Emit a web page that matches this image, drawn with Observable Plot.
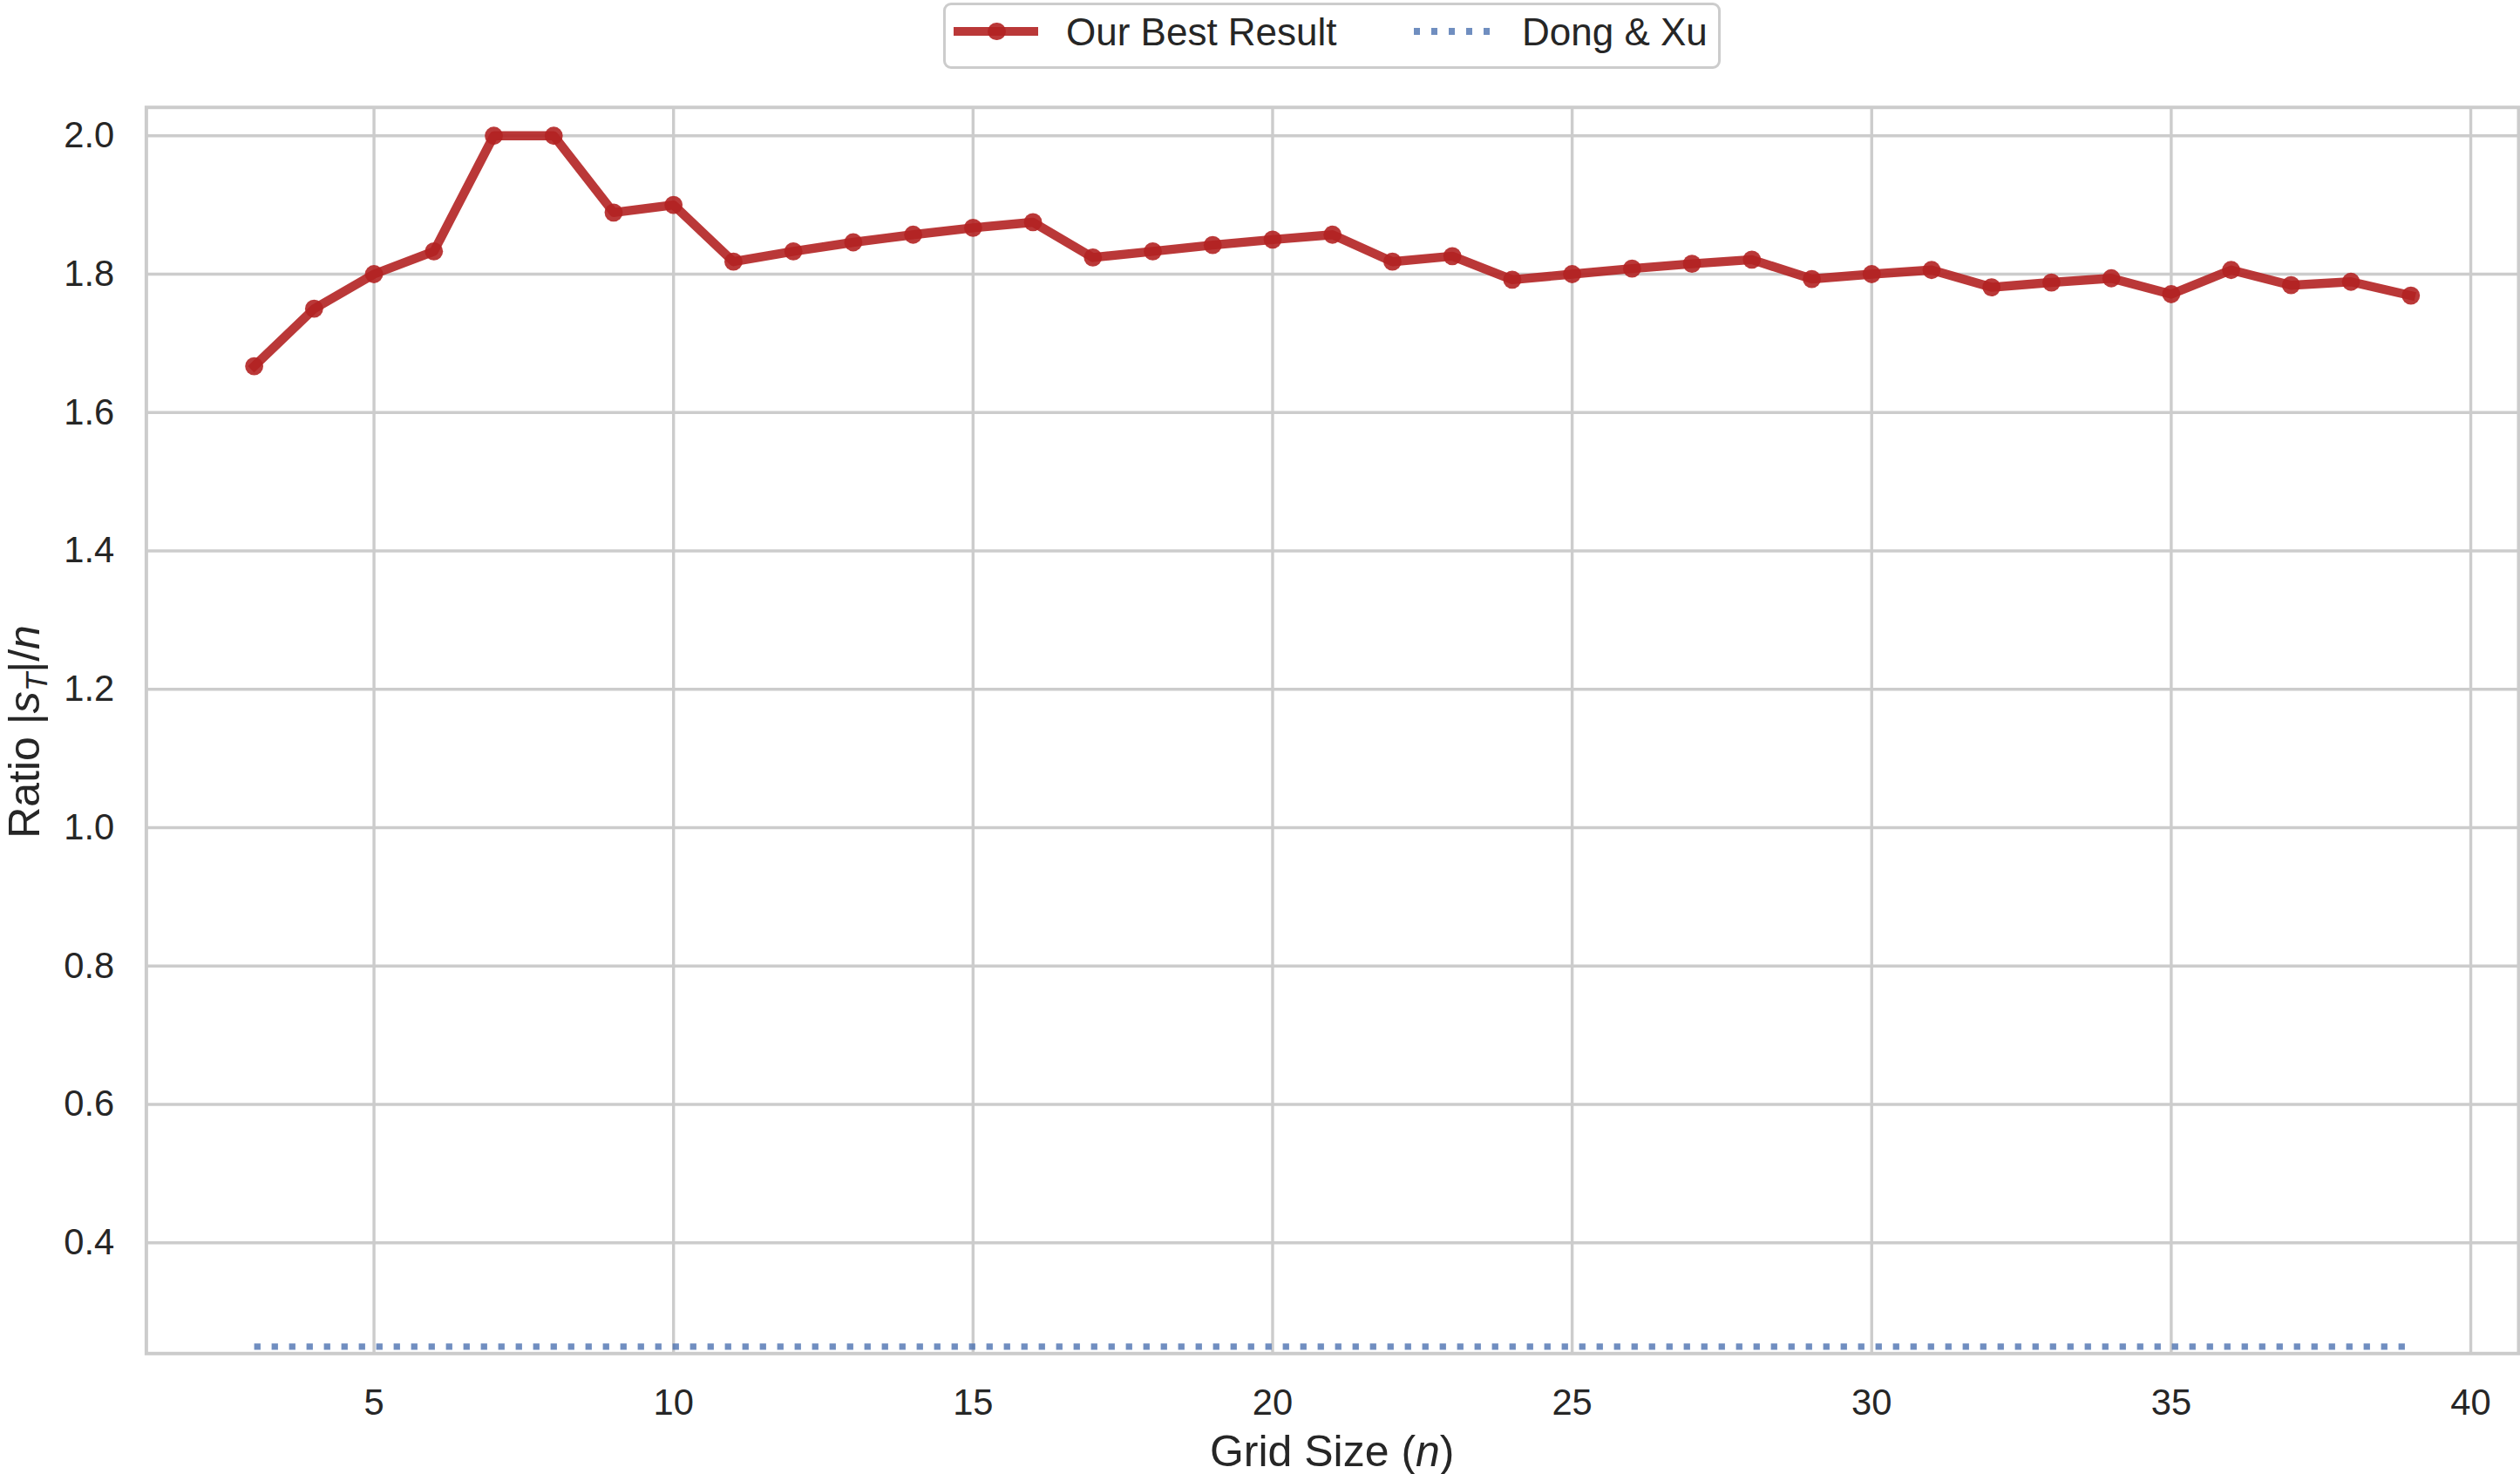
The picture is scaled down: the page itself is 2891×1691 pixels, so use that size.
<!DOCTYPE html>
<html>
<head>
<meta charset="utf-8">
<script src="https://cdn.jsdelivr.net/npm/d3@7"></script>
<script src="https://cdn.jsdelivr.net/npm/@observablehq/plot@0.6"></script>
<style>
  html, body { margin: 0; padding: 0; background: #ffffff; }
  body { width: 2891px; height: 1691px; overflow: hidden; font-family: "Liberation Sans", Arial, sans-serif; color: #262626; }
  #legend { position: relative; width: 2891px; height: 88px; }
  #legend .box { position: absolute; left: 1082px; top: 3px; width: 892px; height: 76px; box-sizing: border-box; border: 3px solid #cccccc; border-radius: 9px; background: #fff; }
  #legend .txt { position: absolute; font-size: 44px; line-height: 44px; white-space: nowrap; color: #262626; }
  #legend .redline { position: absolute; left: 1094px; top: 30.8px; width: 97px; height: 10.4px; background: #b22222; opacity: 0.9; }
  #legend .reddot { position: absolute; left: 1133.1px; top: 25.6px; width: 20.8px; height: 20.8px; border-radius: 50%; background: rgba(178,34,34,0.9); }
  #legend .bluedots { position: absolute; left: 1622px; top: 32.3px; width: 87.3px; height: 7.3px; opacity: 0.8;
    background: repeating-linear-gradient(to right, #4c72b0 0px, #4c72b0 7.3px, transparent 7.3px, transparent 20px); }
  #chart { width: 2891px; }
</style>
</head>
<body>
<div id="legend">
  <div class="box"></div>
  <div class="redline"></div>
  <div class="reddot"></div>
  <div class="txt" style="left:1223px; top:14.5px;">Our Best Result</div>
  <div class="bluedots"></div>
  <div class="txt" style="left:1746px; top:14.5px;">Dong &amp; Xu</div>
</div>
<div id="chart"></div>
<script>
// ---- data ----
const gridSize = [3, 4, 5, 6, 7, 8, 9, 10, 11, 12, 13, 14, 15, 16, 17, 18, 19, 20, 21,
                  22, 23, 24, 25, 26, 27, 28, 29, 30, 31, 32, 33, 34, 35, 36, 37, 38, 39];
const ourBestResult = [1.667, 1.750, 1.800, 1.833, 2.000, 2.000, 1.889, 1.900, 1.818, 1.833,
                       1.846, 1.857, 1.867, 1.875, 1.824, 1.833, 1.842, 1.850, 1.857, 1.818,
                       1.826, 1.792, 1.800, 1.808, 1.815, 1.821, 1.793, 1.800, 1.806, 1.781,
                       1.788, 1.794, 1.771, 1.806, 1.784, 1.789, 1.769];
const dongXu = [0.25, 0.25, 0.25, 0.25, 0.25, 0.25, 0.25, 0.25, 0.25, 0.25, 0.25, 0.25, 0.25,
                0.25, 0.25, 0.25, 0.25, 0.25, 0.25, 0.25, 0.25, 0.25, 0.25, 0.25, 0.25, 0.25,
                0.25, 0.25, 0.25, 0.25, 0.25, 0.25, 0.25, 0.25, 0.25, 0.25, 0.25];
const xTicks = [5, 10, 15, 20, 25, 30, 35, 40];
const yTicks = [0.4, 0.6, 0.8, 1.0, 1.2, 1.4, 1.6, 1.8, 2.0];

const ours = gridSize.map((n, i) => ({n, v: ourBestResult[i]}));
const dong = gridSize.map((n, i) => ({n, v: dongXu[i]}));

const W = 2891, H = 1603;
const mL = 167.4, mR = 2, mT = 34.7, mB = 138.7;
const grid = "#cccccc";
const ink = "#262626";

const chart = Plot.plot({
  width: W,
  height: H,
  marginLeft: mL,
  marginRight: mR,
  marginTop: mT,
  marginBottom: mB,
  style: {fontFamily: "'Liberation Sans', Arial, sans-serif", fontSize: "41.7px", color: ink, background: "#ffffff", overflow: "visible"},
  x: {domain: [1.2, 40.8], label: null},
  y: {domain: [0.24, 2.041], label: null},
  marks: [
    Plot.gridX(xTicks, {stroke: grid, strokeOpacity: 1, strokeWidth: 3.4}),
    Plot.gridY(yTicks, {stroke: grid, strokeOpacity: 1, strokeWidth: 3.4}),
    Plot.axisX(xTicks, {tickSize: 0, tickPadding: 41, fontSize: 41.7, fill: ink, tickFormat: d => String(d), label: null}),
    Plot.axisY(yTicks, {tickSize: 0, tickPadding: 36.7, fontSize: 41.7, fill: ink, tickFormat: d3.format(".1f"), label: null}),
    Plot.line(dong, {x: "n", y: "v", stroke: "#4c72b0", strokeOpacity: 0.8, strokeWidth: 7.3,
                     strokeDasharray: "7.3,12.7", strokeLinecap: "butt"}),
    Plot.line(ours, {x: "n", y: "v", stroke: "#b22222", strokeOpacity: 0.9, strokeWidth: 10.4,
                     strokeLinejoin: "round", strokeLinecap: "square"}),
    Plot.dot(ours, {x: "n", y: "v", r: 10.4, fill: "#b22222", fillOpacity: 0.9, stroke: null}),
    Plot.frame({stroke: grid, strokeWidth: 4})
  ]
});

document.getElementById("chart").appendChild(chart);

// axis titles (with italic / subscript parts)
const svg = d3.select(chart);
const xl = svg.append("text")
  .attr("x", (mL + (W - mR)) / 2)
  .attr("y", 1593.7)
  .attr("text-anchor", "middle")
  .attr("font-size", 50)
  .attr("fill", ink);
xl.append("tspan").text("Grid Size (");
xl.append("tspan").attr("font-style", "italic").text("n");
xl.append("tspan").text(")");

const yl = svg.append("text")
  .attr("transform", `translate(45,${(mT + (H - mB)) / 2 + 2}) rotate(-90)`)
  .attr("text-anchor", "middle")
  .attr("font-size", 50)
  .attr("fill", ink);
yl.append("tspan").text("Ratio |");
yl.append("tspan").attr("font-style", "italic").text("s");
yl.append("tspan").attr("font-style", "italic").attr("font-size", 35).attr("dy", 9).text("T");
yl.append("tspan").attr("dy", -9).text("|/");
yl.append("tspan").attr("font-style", "italic").text("n");
</script>
</body>
</html>
